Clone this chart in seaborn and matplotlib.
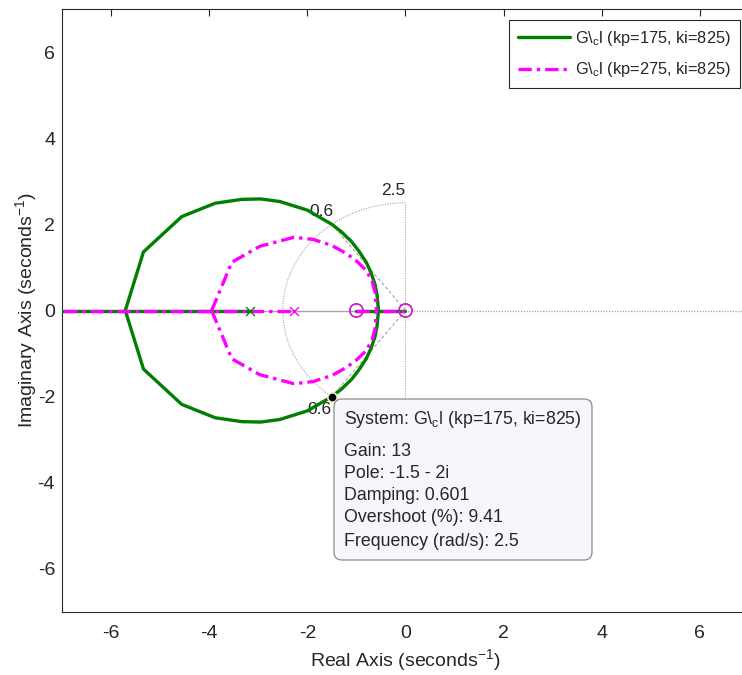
import numpy as np
import pandas as pd
import matplotlib
matplotlib.use("Agg")
import matplotlib.pyplot as plt
import seaborn as sns
from matplotlib.patches import FancyBboxPatch
from matplotlib.lines import Line2D
from matplotlib.transforms import IdentityTransform

# ---------------- data ----------------
series_labels = [r"G$\backslash_{\mathregular{c}}$l (kp=175, ki=825)",
                 r"G$\backslash_{\mathregular{c}}$l (kp=275, ki=825)"]

# system 1 (kp=175) complex branches
g1_re = [-5.71, -5.34, -4.56, -3.88, -3.34, -2.95, -2.56, -2.00, -1.50, -1.30, -1.10,
         -0.95, -0.80, -0.70, -0.62, -0.58, -0.55]
g1_im_up = [0.0, 1.36, 2.18, 2.49, 2.58, 2.59, 2.53, 2.33, 2.00, 1.82, 1.60,
            1.38, 1.12, 0.87, 0.60, 0.36, 0.0]
g1_im_dn = [0.0, -1.36, -2.18, -2.49, -2.58, -2.59, -2.53, -2.33, -2.00, -1.82, -1.60,
            -1.38, -1.12, -0.87, -0.60, -0.36, 0.0]
# system 2 (kp=275) complex branches
g2_re = [-3.95, -3.54, -2.97, -2.27, -1.88, -1.50, -1.20, -0.98, -0.80, -0.68, -0.62, -0.59]
g2_im_up = [0.0, 1.12, 1.49, 1.70, 1.65, 1.51, 1.32, 1.13, 0.93, 0.68, 0.42, 0.0]
g2_im_dn = [0.0, -1.12, -1.49, -1.70, -1.65, -1.51, -1.32, -1.13, -0.93, -0.68, -0.42, 0.0]
# real-axis branches  (start, end)
g1_real = [(-7.5, -3.17), (-1.0, 0.0)]
g2_real = [(-7.5, -2.28), (-1.0, 0.0)]
# poles / zeros
g1_poles = [-3.17]
g2_poles = [-2.28]
zeros = [-1.0, 0.0]

# grid (damping / natural frequency)
zeta = 0.6
wn = 2.5
# data tip
tip_re, tip_im = -1.5, -2.0
tip_lines = ["Gain: 13", "Pole: -1.5 - 2i", "Damping: 0.601",
             "Overshoot (%): 9.41", "Frequency (rad/s): 2.5"]

ticks = [-6, -4, -2, 0, 2, 4, 6]

# ---------------- style ----------------
sns.set_theme(style="white")
plt.rcParams["font.family"] = ["Liberation Sans", "DejaVu Sans"]
plt.rcParams["mathtext.fontset"] = "custom"
plt.rcParams["mathtext.rm"] = "Liberation Sans"
plt.rcParams["mathtext.it"] = "Liberation Sans:italic"
plt.rcParams["mathtext.bf"] = "Liberation Sans:bold"
plt.rcParams["axes.unicode_minus"] = False

GREEN = "#008000"
MAG = "#ff00ff"
TXT = "#262626"
GRAY = "#a6a6a6"

W, H = 742, 675
fig = plt.figure(figsize=(W / 100, H / 100), dpi=100)
ax = fig.add_axes([62 / W, 1 - 612 / H, (749 - 62) / W, (612 - 9) / H])

# ---- grid lines (sgrid-like) ----
ax.plot([-7.5, 0], [0, 0], color=GRAY, lw=1.0, zorder=1)
ax.plot([0, 7.5], [0, 0], color=GRAY, lw=0.9, ls=(0, (1, 1.2)), zorder=1)
th = np.linspace(np.pi / 2, 3 * np.pi / 2, 200)
ax.plot(wn * np.cos(th), wn * np.sin(th), color=GRAY, lw=0.8, ls=(0, (1, 1.2)), zorder=1)
ax.plot([0, 0], [-wn, wn], color=GRAY, lw=0.8, ls=(0, (1, 1.2)), zorder=1)
sz = np.sqrt(1 - zeta ** 2)
for s in (1, -1):
    ax.plot([0, -zeta * wn], [0, s * sz * wn], color=GRAY, lw=0.8, ls=(0, (3, 2)), zorder=1)
ax.text(-1.72, 2.30, "0.6", fontsize=12.5, color=TXT, ha="center", va="center", zorder=2)
ax.text(-1.75, -2.30, "0.6", fontsize=12.5, color=TXT, ha="center", va="center", zorder=2)
ax.text(0, 2.62, "2.5", fontsize=12.5, color=TXT, ha="right", va="bottom", zorder=2)

# ---- system 1 ----
LW = 2.4
for a, b in g1_real:
    sns.lineplot(x=[a, b], y=[0, 0], ax=ax, color=GREEN, lw=LW, sort=False, estimator=None, zorder=3)
sns.lineplot(x=g1_re, y=g1_im_up, ax=ax, color=GREEN, lw=LW, sort=False, estimator=None, zorder=3)
sns.lineplot(x=g1_re, y=g1_im_dn, ax=ax, color=GREEN, lw=LW, sort=False, estimator=None, zorder=3)
ax.scatter(g1_poles, [0] * len(g1_poles), marker="x", s=40, color=GREEN, lw=1.0, zorder=5)
ax.scatter(zeros, [0] * len(zeros), marker="o", s=90, facecolors="none", edgecolors=GREEN, lw=1.0, zorder=5)

# ---- system 2 ----
DASH = (0, (4, 1.5, 1, 1.5))
for a, b in g2_real:
    sns.lineplot(x=[a, b], y=[0, 0], ax=ax, color=MAG, lw=LW, sort=False, estimator=None, zorder=4,
                 linestyle=DASH)
sns.lineplot(x=g2_re, y=g2_im_up, ax=ax, color=MAG, lw=LW, sort=False, estimator=None, zorder=4, linestyle=DASH)
sns.lineplot(x=g2_re, y=g2_im_dn, ax=ax, color=MAG, lw=LW, sort=False, estimator=None, zorder=4, linestyle=DASH)
ax.scatter(g2_poles, [0] * len(g2_poles), marker="x", s=40, color=MAG, lw=1.0, zorder=6)
ax.scatter(zeros, [0] * len(zeros), marker="o", s=90, facecolors="none", edgecolors=MAG, lw=1.0, zorder=6)

# ---- data tip ----
ax.scatter([tip_re], [tip_im], s=45, color="black", edgecolors="#f5f0c8", lw=1.2, zorder=8)

# ---- axes ----
ax.set_xlim(-7, 7)
ax.set_ylim(-7, 7)
ax.set_xticks(ticks)
ax.set_yticks(ticks)
ax.tick_params(direction="in", length=5, width=0.8, colors=TXT, labelsize=14,
               top=True, right=True, labelcolor=TXT)
ax.tick_params(axis="x", pad=9)
ax.tick_params(axis="y", pad=5)
for sp in ax.spines.values():
    sp.set_color(TXT)
    sp.set_linewidth(0.8)
ax.set_xlabel(r"Real Axis (seconds$^{\mathregular{-1}}$)", fontsize=14, color=TXT, labelpad=4)
ax.set_ylabel(r"Imaginary Axis (seconds$^{\mathregular{-1}}$)", fontsize=14, color=TXT, labelpad=-1)

# ---- legend ----
handles = [Line2D([], [], color=GREEN, lw=LW), Line2D([], [], color=MAG, lw=LW, ls=DASH)]
leg = ax.legend(handles, series_labels, loc="upper right", bbox_to_anchor=(740 / W, 1 - 20 / H),
                bbox_transform=fig.transFigure, borderaxespad=0, fontsize=11.8, frameon=True,
                fancybox=False, framealpha=1, edgecolor=TXT, handlelength=3.2, labelspacing=0.75,
                borderpad=0.55, handletextpad=0.3)
leg.get_frame().set_linewidth(0.8)
for t in leg.get_texts():
    t.set_color(TXT)

# ---- tooltip box ----
box = FancyBboxPatch((334, H - 560), 258, 161, boxstyle="round,pad=0,rounding_size=8",
                     transform=IdentityTransform(), facecolor="#f7f7fb", edgecolor="#8c8c8c",
                     lw=0.9, zorder=20)
fig.patches.append(box)
fig.text(344 / W, 1 - 420 / H, "System: " + series_labels[0], fontsize=12.8, color=TXT,
         ha="left", va="center", zorder=21)
for line, yy in zip(tip_lines, [451, 473, 496, 518, 541]):
    fig.text(344 / W, 1 - yy / H, line, fontsize=12.8, color=TXT, ha="left", va="center", zorder=21)

fig.savefig("out.png", dpi=100)
